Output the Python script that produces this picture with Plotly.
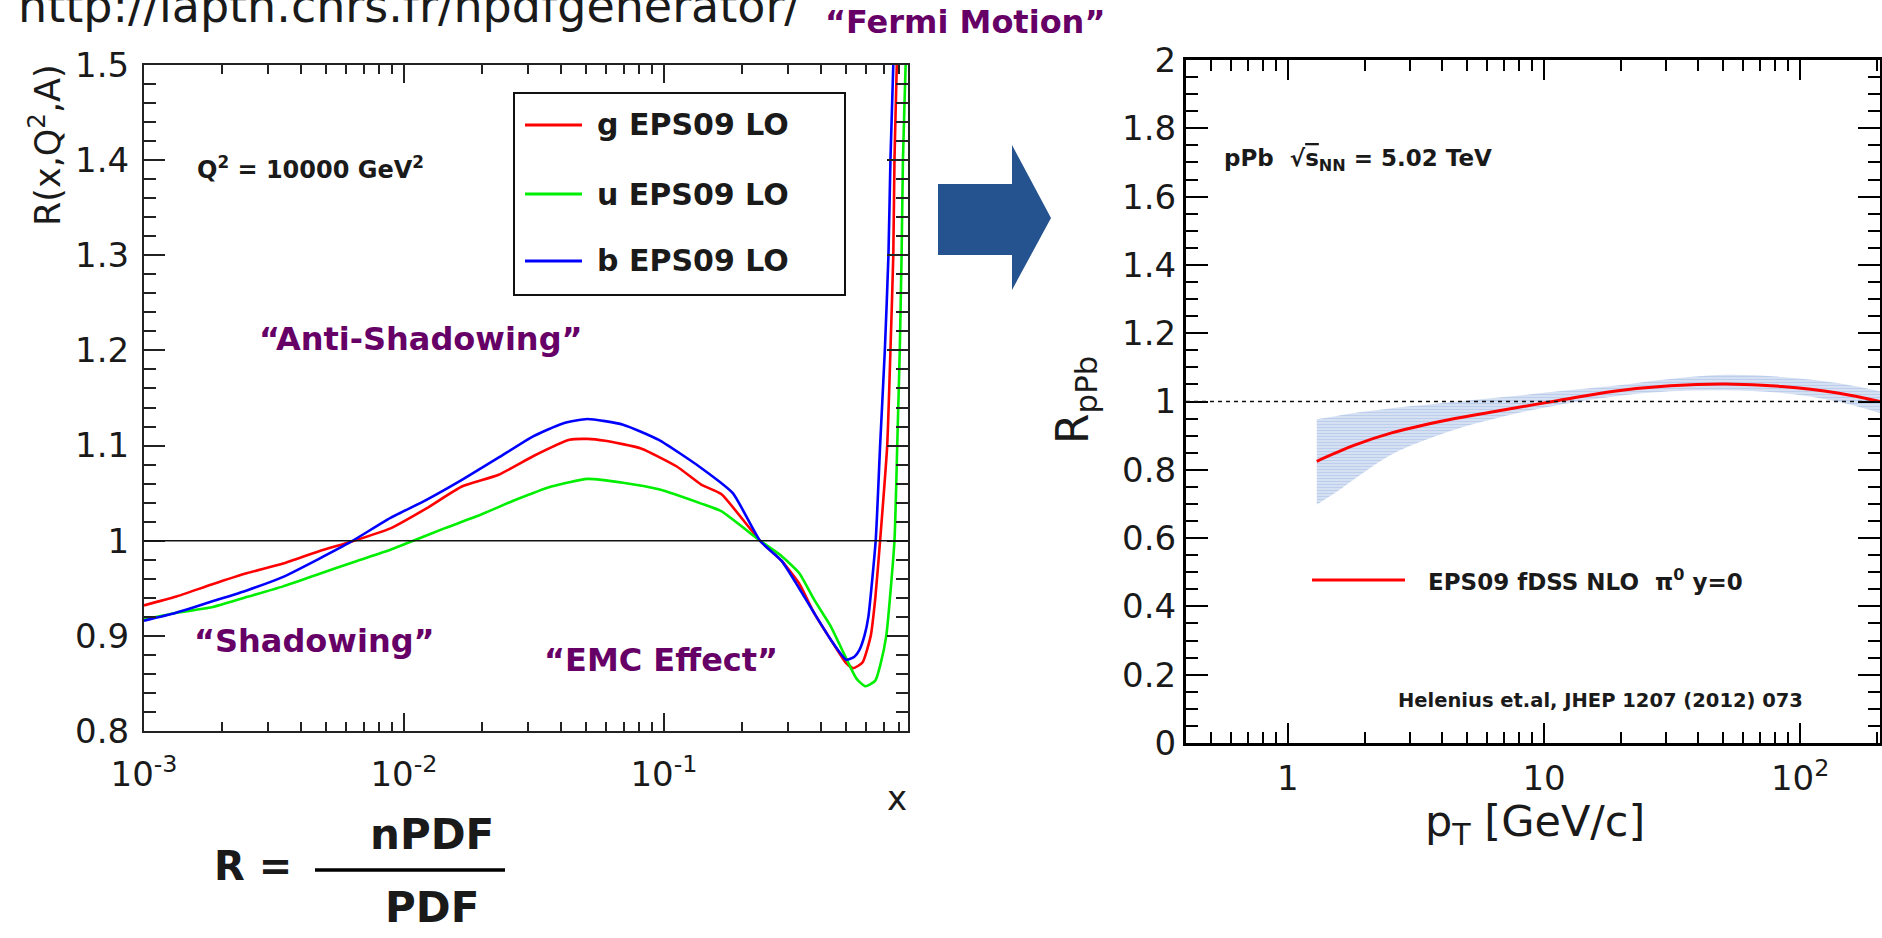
import math
import plotly.graph_objects as go

W, H = 1882, 938

# ---------------- left panel: R(x, Q^2 = 10000 GeV^2, A), EPS09 LO ----------------
x_g = [0.001, 0.00132, 0.00182, 0.0025, 0.00343, 0.00471, 0.00626, 0.00887, 0.0122,
       0.0167, 0.023, 0.0315, 0.0433, 0.0507, 0.0594, 0.0815, 0.112, 0.139, 0.166,
       0.234, 0.283, 0.331, 0.378, 0.438, 0.50, 0.534, 0.58, 0.624, 0.65, 0.678,
       0.722, 0.743, 0.762, 0.770, 0.786, 0.80]
r_g = [0.932, 0.941, 0.954, 0.966, 0.976, 0.989, 0.999, 1.013, 1.034,
       1.057, 1.069, 1.089, 1.106, 1.107, 1.105, 1.097, 1.078, 1.059, 1.049,
       1.0, 0.979, 0.955, 0.924, 0.896, 0.872, 0.866, 0.872, 0.90, 0.94, 1.0,
       1.1, 1.2, 1.3, 1.4, 1.5, 1.6]

x_u = [0.001, 0.00132, 0.00182, 0.0025, 0.00343, 0.00471, 0.00647, 0.00887, 0.0111,
       0.0143, 0.0196, 0.0269, 0.0369, 0.0507, 0.0696, 0.0955, 0.139, 0.166, 0.234,
       0.283, 0.331, 0.378, 0.438, 0.481, 0.55, 0.595, 0.65, 0.68, 0.716, 0.77,
       0.789, 0.807, 0.820, 0.830, 0.85, 0.87]
r_u = [0.917, 0.924, 0.930, 0.941, 0.952, 0.965, 0.978, 0.9905, 1.001,
       1.013, 1.027, 1.043, 1.057, 1.065, 1.061, 1.054, 1.039, 1.031, 1.0,
       0.984, 0.966, 0.938, 0.91, 0.887, 0.855, 0.847, 0.853, 0.87, 0.90, 1.0,
       1.1, 1.2, 1.3, 1.4, 1.5, 1.6]

x_b = [0.001, 0.00132, 0.00182, 0.0025, 0.00343, 0.00471, 0.00626, 0.00887, 0.0122,
       0.0167, 0.023, 0.0315, 0.0406, 0.0507, 0.0696, 0.0955, 0.139, 0.184, 0.234,
       0.283, 0.331, 0.378, 0.438, 0.502, 0.54, 0.564, 0.59, 0.611, 0.652, 0.678,
       0.707, 0.730, 0.743, 0.762, 0.775]
r_b = [0.916, 0.924, 0.936, 0.948, 0.962, 0.981, 0.999, 1.024, 1.043,
       1.064, 1.087, 1.110, 1.123, 1.128, 1.122, 1.106, 1.0765, 1.050, 1.0,
       0.979, 0.950, 0.924, 0.896, 0.875, 0.878, 0.885, 0.90, 0.92, 1.0, 1.1,
       1.2, 1.3, 1.4, 1.5, 1.6]

series_names = ["g EPS09 LO", "u EPS09 LO", "b EPS09 LO"]
series_colors = ["#ff0000", "#00ee00", "#0000ff"]

# ---------------- right panel: R_pPb of pi0 at y=0, EPS09 fDSS NLO ----------------
pt_central = [1.296, 1.82, 2.54, 4.20, 6.93, 11.4, 18.8, 31.1, 51.3, 84.7, 140, 205]
rppb_central = [0.825, 0.872, 0.908, 0.946, 0.975, 1.003, 1.030, 1.046, 1.051, 1.044, 1.025, 1.0]

pt_band = [1.296, 1.54, 1.82, 2.54, 4.20, 6.93, 11.4, 18.8, 31.1, 51.3, 84.7, 140, 205]
rppb_high = [0.948, 0.957, 0.966, 0.980, 0.997, 1.013, 1.030, 1.046, 1.066, 1.078, 1.072, 1.054, 1.030]
rppb_low = [0.698, 0.734, 0.773, 0.845, 0.911, 0.956, 0.990, 1.015, 1.030, 1.033, 1.025, 1.0, 0.966]

UNITY = 1.0

# ---------------- axis ticks ----------------
left_xticks = [1e-3, 1e-2, 1e-1]
left_xticklabels = ["10<sup>-3</sup>", "10<sup>-2</sup>", "10<sup>-1</sup>"]
left_yticks = [0.8, 0.9, 1.0, 1.1, 1.2, 1.3, 1.4, 1.5]
left_yticklabels = ["0.8", "0.9", "1", "1.1", "1.2", "1.3", "1.4", "1.5"]
right_xticks = [1, 10, 100]
right_xticklabels = ["1", "10", "10<sup>2</sup>"]
right_yticks = [0, 0.2, 0.4, 0.6, 0.8, 1.0, 1.2, 1.4, 1.6, 1.8, 2.0]
right_yticklabels = ["0", "0.2", "0.4", "0.6", "0.8", "1", "1.2", "1.4", "1.6", "1.8", "2"]

LEFT_XMAX = 0.868
RIGHT_XMIN, RIGHT_XMAX = 0.4, 205.0

FONT = "DejaVu Sans"
PURPLE = "#660066"
INK = "#1a1a1a"


def px(x):
    return x / W


def py(y):
    return 1 - y / H


def log_minors(lo, hi):
    vals = []
    for e in range(-4, 4):
        for k in range(2, 10):
            v = k * 10.0 ** e
            if lo <= v <= hi:
                vals.append(v)
    return vals


fig = go.Figure()

for xs, rs, name, col in zip([x_g, x_u, x_b], [r_g, r_u, r_b], series_names, series_colors):
    fig.add_trace(go.Scatter(x=xs, y=rs, mode="lines", name=name,
                             line=dict(color=col, width=2.6, shape="spline", smoothing=0.5),
                             xaxis="x", yaxis="y", showlegend=False))

fig.add_trace(go.Scatter(x=pt_band, y=rppb_high, mode="lines", line=dict(width=0, shape="spline"),
                         xaxis="x2", yaxis="y2", showlegend=False, hoverinfo="skip"))
fig.add_trace(go.Scatter(x=pt_band, y=rppb_low, mode="lines", line=dict(width=0, shape="spline"),
                         fill="tonexty", fillcolor="rgba(180,200,235,0.8)",
                         fillpattern=dict(shape="-", fgcolor="#9db6e3", bgcolor="#dde6f5",
                                          size=3, solidity=0.5),
                         xaxis="x2", yaxis="y2", showlegend=False, hoverinfo="skip"))
fig.add_trace(go.Scatter(x=pt_central, y=rppb_central, mode="lines",
                         name="EPS09 fDSS NLO", line=dict(color="#ff0000", width=3, shape="spline"),
                         xaxis="x2", yaxis="y2", showlegend=False))

tickfont = dict(family=FONT, size=34, color=INK)

left_x = dict(type="log", range=[-3, math.log10(LEFT_XMAX)], automargin=False,
              domain=[px(144), px(908)], anchor="y",
              showline=True, linecolor="#222", linewidth=2, mirror="ticks",
              ticks="inside", ticklen=18, tickwidth=1.5, tickcolor="#222",
              tickvals=left_xticks, ticktext=left_xticklabels, tickfont=tickfont,
              ticklabelstandoff=12,
              minor=dict(ticks="inside", ticklen=9, tickwidth=1.5, tickcolor="#222",
                         tickvals=log_minors(1e-3, LEFT_XMAX), showgrid=False),
              showgrid=False, zeroline=False)
left_y = dict(range=[0.8, 1.5], domain=[py(731), py(65)], anchor="x", automargin=False,
              showline=True, linecolor="#222", linewidth=2, mirror="ticks",
              ticks="inside", ticklen=21, tickwidth=1.5, tickcolor="#222",
              tickvals=left_yticks, ticktext=left_yticklabels, tickfont=tickfont,
              ticklabelstandoff=6,
              minor=dict(ticks="inside", ticklen=12, tickwidth=1.5, tickcolor="#222",
                         tick0=0.8, dtick=0.02, showgrid=False),
              showgrid=False, zeroline=False)
right_x = dict(type="log", range=[math.log10(RIGHT_XMIN), math.log10(RIGHT_XMAX)],
               domain=[px(1186), px(1880)], anchor="y2", automargin=False,
               showline=True, linecolor="#000", linewidth=3, mirror="ticks",
               ticks="inside", ticklen=20, tickwidth=1.5, tickcolor="#000",
               tickvals=right_xticks, ticktext=right_xticklabels, tickfont=tickfont,
               ticklabelstandoff=3,
               minor=dict(ticks="inside", ticklen=11, tickwidth=1.5, tickcolor="#000",
                          tickvals=log_minors(RIGHT_XMIN, RIGHT_XMAX), showgrid=False),
               showgrid=False, zeroline=False)
right_y = dict(range=[0, 2], domain=[py(743), py(60)], anchor="x2", automargin=False,
               showline=True, linecolor="#000", linewidth=3, mirror="ticks",
               ticks="inside", ticklen=22, tickwidth=1.5, tickcolor="#000",
               tickvals=right_yticks, ticktext=right_yticklabels, tickfont=tickfont,
               ticklabelstandoff=0,
               minor=dict(ticks="inside", ticklen=12, tickwidth=1.5, tickcolor="#000",
                          tick0=0, dtick=0.05, showgrid=False),
               showgrid=False, zeroline=False)


def text(s, x, y, size, color=INK, bold=False, xanchor="center", yanchor="middle", angle=0):
    return dict(text=f"<b>{s}</b>" if bold else s, x=px(x), y=py(y), xref="paper", yref="paper",
                xanchor=xanchor, yanchor=yanchor, showarrow=False, textangle=angle,
                font=dict(family=FONT, size=size, color=color))


annotations = [
    text("http://lapth.cnrs.fr/npdfgenerator/", 16, 35, 46, color="#1a1a1a",
         xanchor="left", yanchor="bottom"),
    text("“Fermi Motion”", 965, 22, 32, PURPLE, bold=True),
    text("“Anti-Shadowing”", 421, 339, 32, PURPLE, bold=True),
    text("“Shadowing”", 314, 641, 32, PURPLE, bold=True),
    text("“EMC Effect”", 661, 660, 32, PURPLE, bold=True),
    text("Q<sup>2</sup> = 10000 GeV<sup>2</sup>", 195, 168, 24, bold=True, xanchor="left"),
    text("R(x,Q<sup>2</sup>,A)", 45, 145, 35, angle=-90),
    text("x", 897, 798, 34),
    text("R =", 253, 866, 40, bold=True),
    text("nPDF", 432, 834, 42, bold=True),
    text("PDF", 432, 907, 42, bold=True),
    text("pPb  √<span style='text-decoration:overline'>s</span><sub>NN</sub> = 5.02 TeV",
         1222, 160, 23, bold=True, xanchor="left"),
    text("Helenius et.al, JHEP 1207 (2012) 073", 1396, 700, 19.5, bold=True, xanchor="left"),
    text("EPS09 fDSS NLO  π<sup>0</sup> y=0", 1426, 580, 23, bold=True, xanchor="left"),
    text("R<sub>pPb</sub>", 1075, 400, 44, angle=-90),
    text("p<sub>T</sub> [GeV/c]", 1535, 824, 43),
]

legend_rows_y = [125, 194, 261]
for name, row_y in zip(series_names, legend_rows_y):
    annotations.append(text(name, 595, row_y, 30, bold=True, xanchor="left"))

shapes = [
    # reference levels
    dict(type="line", xref="x domain", yref="y", x0=0, x1=1, y0=UNITY, y1=UNITY,
         line=dict(color="#111", width=1.6)),
    dict(type="line", xref="x2 domain", yref="y2", x0=0, x1=1, y0=UNITY, y1=UNITY,
         line=dict(color="#111", width=1.6, dash="4px,4px")),
    # legend frame of the left panel
    dict(type="rect", xref="paper", yref="paper", x0=px(514), x1=px(845), y0=py(295), y1=py(93),
         line=dict(color="#111", width=2), fillcolor="rgba(255,255,255,0)"),
    # fraction bar of R = nPDF / PDF
    dict(type="line", xref="paper", yref="paper", x0=px(315), x1=px(505), y0=py(870), y1=py(870),
         line=dict(color="#000", width=3.5)),
    # block arrow between the panels
    dict(type="path", xref="paper", yref="paper",
         path=(f"M {px(938)},{py(184)} L {px(1012)},{py(184)} L {px(1012)},{py(145)} "
               f"L {px(1051)},{py(218)} L {px(1012)},{py(290)} L {px(1012)},{py(255)} "
               f"L {px(938)},{py(255)} Z"),
         fillcolor="#25538f", line=dict(width=0)),
    # legend sample of the right panel
    dict(type="line", xref="paper", yref="paper", x0=px(1312), x1=px(1405), y0=py(580), y1=py(580),
         line=dict(color="#ff0000", width=3)),
]
for col, row_y in zip(series_colors, legend_rows_y):
    shapes.append(dict(type="line", xref="paper", yref="paper", x0=px(525), x1=px(582),
                       y0=py(row_y), y1=py(row_y), line=dict(color=col, width=3)))

fig.update_layout(
    width=W, height=H, margin=dict(l=0, r=0, t=0, b=0, autoexpand=False),
    paper_bgcolor="white", plot_bgcolor="white",
    font=dict(family=FONT, color=INK),
    xaxis=left_x, yaxis=left_y, xaxis2=right_x, yaxis2=right_y,
    annotations=annotations, shapes=shapes, showlegend=False,
)

fig.write_html("out.html")
